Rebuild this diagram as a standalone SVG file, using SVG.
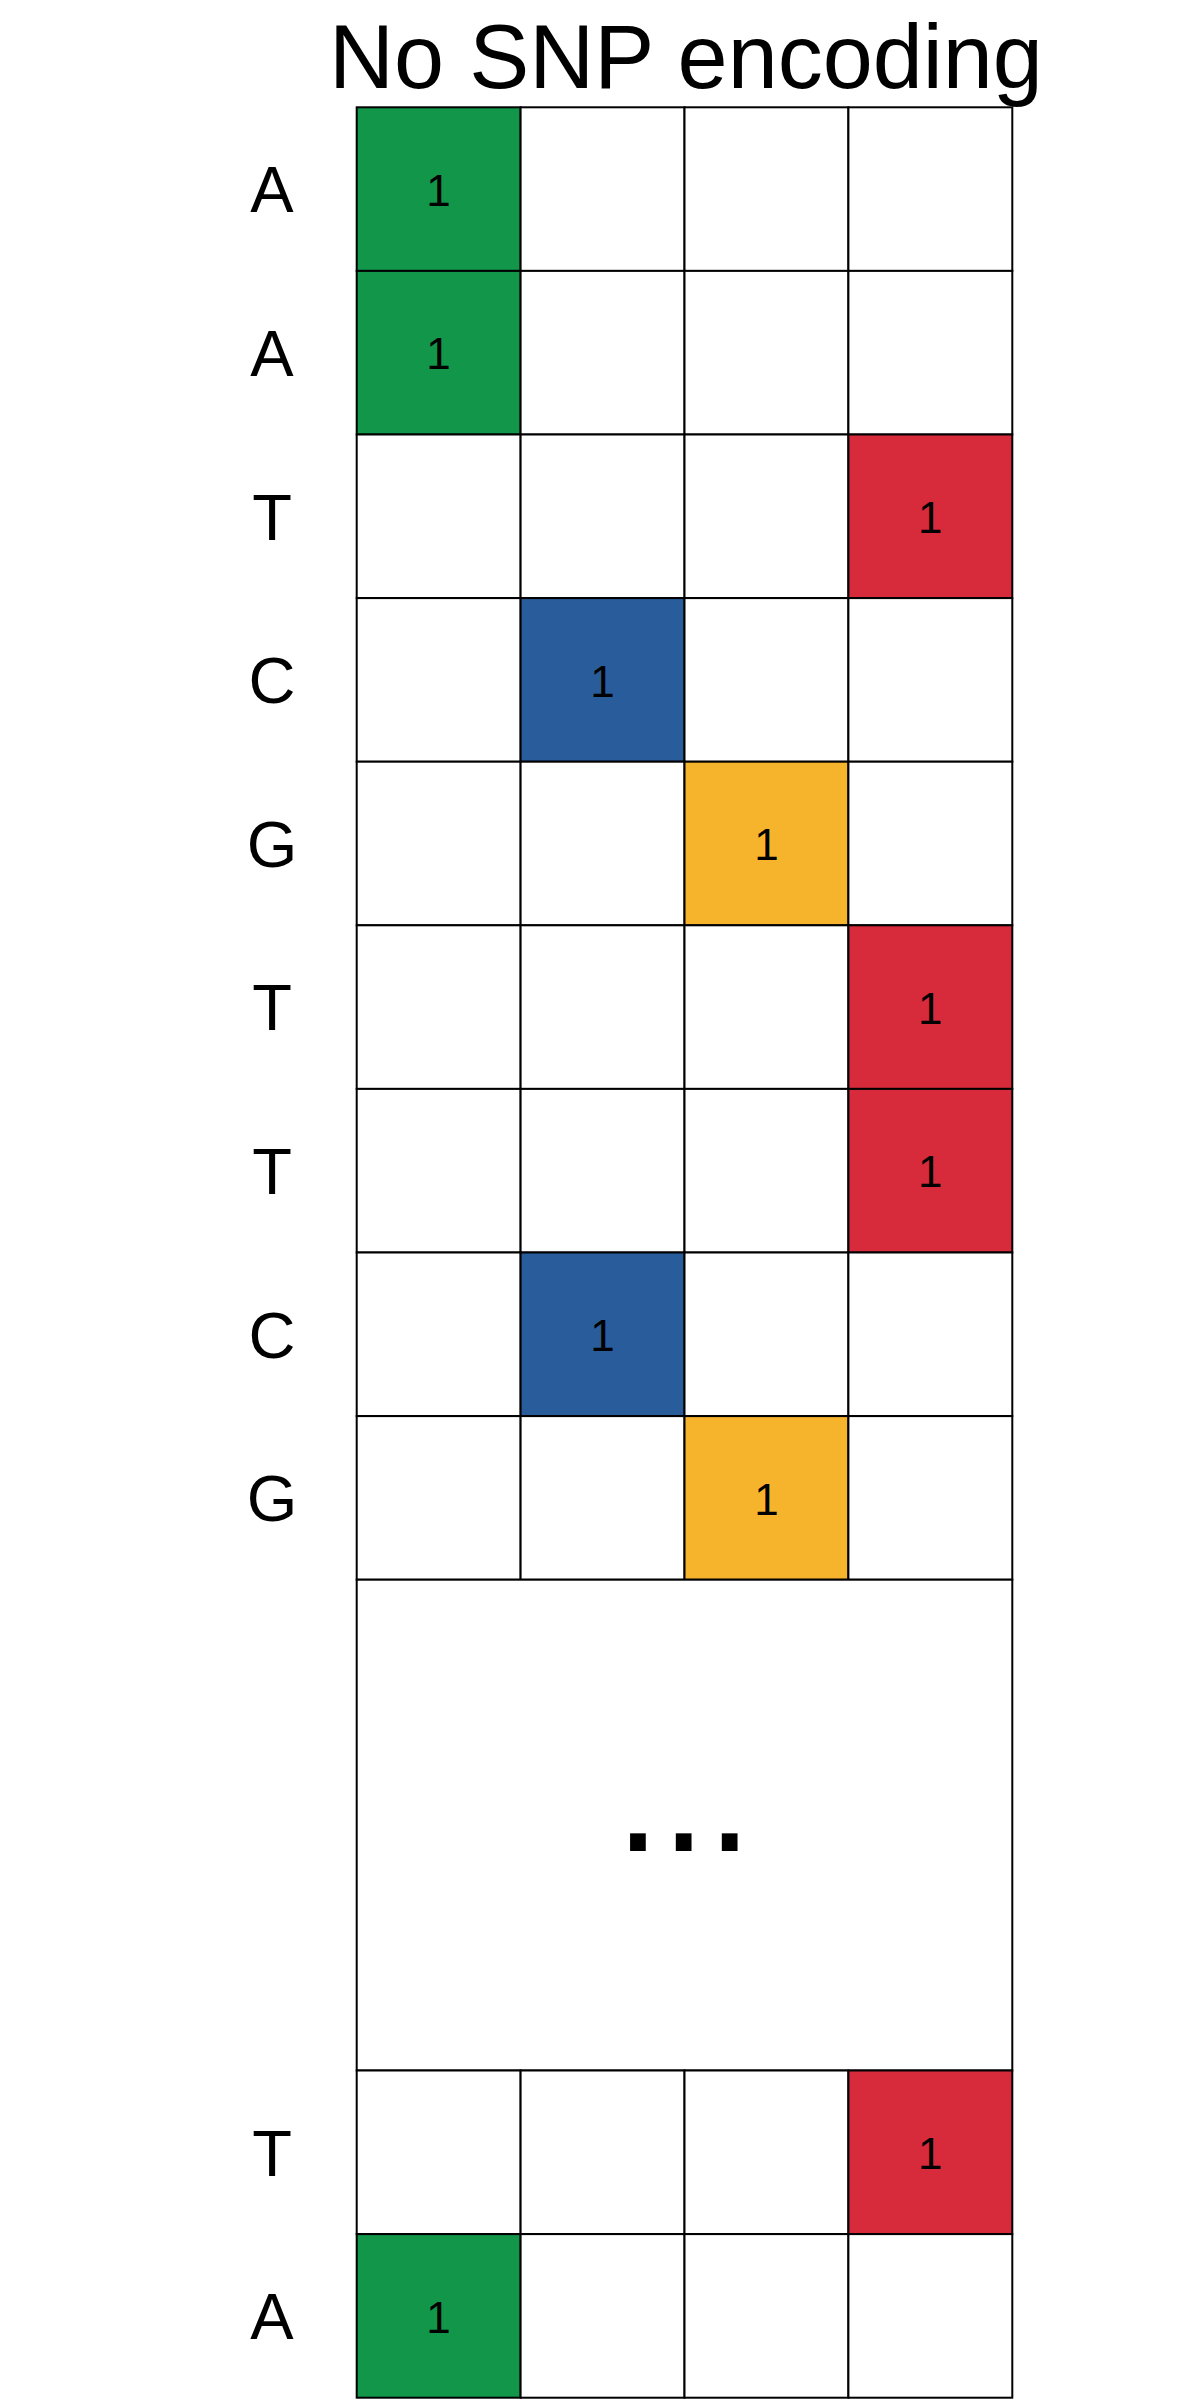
<svg xmlns="http://www.w3.org/2000/svg" width="1200" height="2400" viewBox="0 0 1200 2400">
<style>
.c{fill:#ffffff;stroke:#000;stroke-width:2}
.g{fill:#11964a;stroke:#000;stroke-width:2}
.r{fill:#d72a3b;stroke:#000;stroke-width:2}
.b{fill:#285c9a;stroke:#000;stroke-width:2}
.y{fill:#f6b42c;stroke:#000;stroke-width:2}
.lab{font-family:"Liberation Sans",Arial,sans-serif;font-size:65px;text-anchor:middle;fill:#000}
.one{font-family:"Liberation Sans",Arial,sans-serif;font-size:44px;text-anchor:middle;fill:#000}
.title{font-family:"Liberation Sans",Arial,sans-serif;font-size:90px;text-anchor:middle;fill:#000}
</style>
<rect x="0" y="0" width="1200" height="2400" fill="#fff"/>
<text id="title" class="title" x="686" y="88">No SNP encoding</text>

<g id="row1">
<text class="lab" x="272" y="212.4">A</text>
<rect class="g" x="356.7" y="107.3" width="163.9" height="163.6"/>
<rect class="c" x="520.6" y="107.3" width="163.9" height="163.6"/>
<rect class="c" x="684.5" y="107.3" width="163.9" height="163.6"/>
<rect class="c" x="848.4" y="107.3" width="163.9" height="163.6"/>
<text class="one" x="438.6" y="205.7">1</text>
</g>
<g id="row2">
<text class="lab" x="272" y="376">A</text>
<rect class="g" x="356.7" y="270.9" width="163.9" height="163.6"/>
<rect class="c" x="520.6" y="270.9" width="163.9" height="163.6"/>
<rect class="c" x="684.5" y="270.9" width="163.9" height="163.6"/>
<rect class="c" x="848.4" y="270.9" width="163.9" height="163.6"/>
<text class="one" x="438.6" y="369.3">1</text>
</g>
<g id="row3">
<text class="lab" x="272" y="539.6">T</text>
<rect class="c" x="356.7" y="434.5" width="163.9" height="163.6"/>
<rect class="c" x="520.6" y="434.5" width="163.9" height="163.6"/>
<rect class="c" x="684.5" y="434.5" width="163.9" height="163.6"/>
<rect class="r" x="848.4" y="434.5" width="163.9" height="163.6"/>
<text class="one" x="930.3" y="532.9">1</text>
</g>
<g id="row4">
<text class="lab" x="272" y="703.2">C</text>
<rect class="c" x="356.7" y="598.1" width="163.9" height="163.6"/>
<rect class="b" x="520.6" y="598.1" width="163.9" height="163.6"/>
<rect class="c" x="684.5" y="598.1" width="163.9" height="163.6"/>
<rect class="c" x="848.4" y="598.1" width="163.9" height="163.6"/>
<text class="one" x="602.5" y="696.5">1</text>
</g>
<g id="row5">
<text class="lab" x="272" y="866.8">G</text>
<rect class="c" x="356.7" y="761.7" width="163.9" height="163.6"/>
<rect class="c" x="520.6" y="761.7" width="163.9" height="163.6"/>
<rect class="y" x="684.5" y="761.7" width="163.9" height="163.6"/>
<rect class="c" x="848.4" y="761.7" width="163.9" height="163.6"/>
<text class="one" x="766.4" y="860.1">1</text>
</g>
<g id="row6">
<text class="lab" x="272" y="1030.4">T</text>
<rect class="c" x="356.7" y="925.3" width="163.9" height="163.6"/>
<rect class="c" x="520.6" y="925.3" width="163.9" height="163.6"/>
<rect class="c" x="684.5" y="925.3" width="163.9" height="163.6"/>
<rect class="r" x="848.4" y="925.3" width="163.9" height="163.6"/>
<text class="one" x="930.3" y="1023.7">1</text>
</g>
<g id="row7">
<text class="lab" x="272" y="1194">T</text>
<rect class="c" x="356.7" y="1088.9" width="163.9" height="163.6"/>
<rect class="c" x="520.6" y="1088.9" width="163.9" height="163.6"/>
<rect class="c" x="684.5" y="1088.9" width="163.9" height="163.6"/>
<rect class="r" x="848.4" y="1088.9" width="163.9" height="163.6"/>
<text class="one" x="930.3" y="1187.3">1</text>
</g>
<g id="row8">
<text class="lab" x="272" y="1357.6">C</text>
<rect class="c" x="356.7" y="1252.5" width="163.9" height="163.6"/>
<rect class="b" x="520.6" y="1252.5" width="163.9" height="163.6"/>
<rect class="c" x="684.5" y="1252.5" width="163.9" height="163.6"/>
<rect class="c" x="848.4" y="1252.5" width="163.9" height="163.6"/>
<text class="one" x="602.5" y="1350.9">1</text>
</g>
<g id="row9">
<text class="lab" x="272" y="1521.2">G</text>
<rect class="c" x="356.7" y="1416.1" width="163.9" height="163.6"/>
<rect class="c" x="520.6" y="1416.1" width="163.9" height="163.6"/>
<rect class="y" x="684.5" y="1416.1" width="163.9" height="163.6"/>
<rect class="c" x="848.4" y="1416.1" width="163.9" height="163.6"/>
<text class="one" x="766.4" y="1514.5">1</text>
</g>
<g id="ellipsis">
<rect class="c" x="356.7" y="1579.7" width="655.6" height="490.8"/>
<text x="615" y="1851" style="font-family:'Liberation Sans',Arial,sans-serif;font-size:165px;fill:#000">...</text>
</g>
<g id="row13">
<text class="lab" x="272" y="2175.6">T</text>
<rect class="c" x="356.7" y="2070.5" width="163.9" height="163.6"/>
<rect class="c" x="520.6" y="2070.5" width="163.9" height="163.6"/>
<rect class="c" x="684.5" y="2070.5" width="163.9" height="163.6"/>
<rect class="r" x="848.4" y="2070.5" width="163.9" height="163.6"/>
<text class="one" x="930.3" y="2168.9">1</text>
</g>
<g id="row14">
<text class="lab" x="272" y="2339.2">A</text>
<rect class="g" x="356.7" y="2234.1" width="163.9" height="163.6"/>
<rect class="c" x="520.6" y="2234.1" width="163.9" height="163.6"/>
<rect class="c" x="684.5" y="2234.1" width="163.9" height="163.6"/>
<rect class="c" x="848.4" y="2234.1" width="163.9" height="163.6"/>
<text class="one" x="438.6" y="2332.5">1</text>
</g>
<g id="connectors"></g>
</svg>
